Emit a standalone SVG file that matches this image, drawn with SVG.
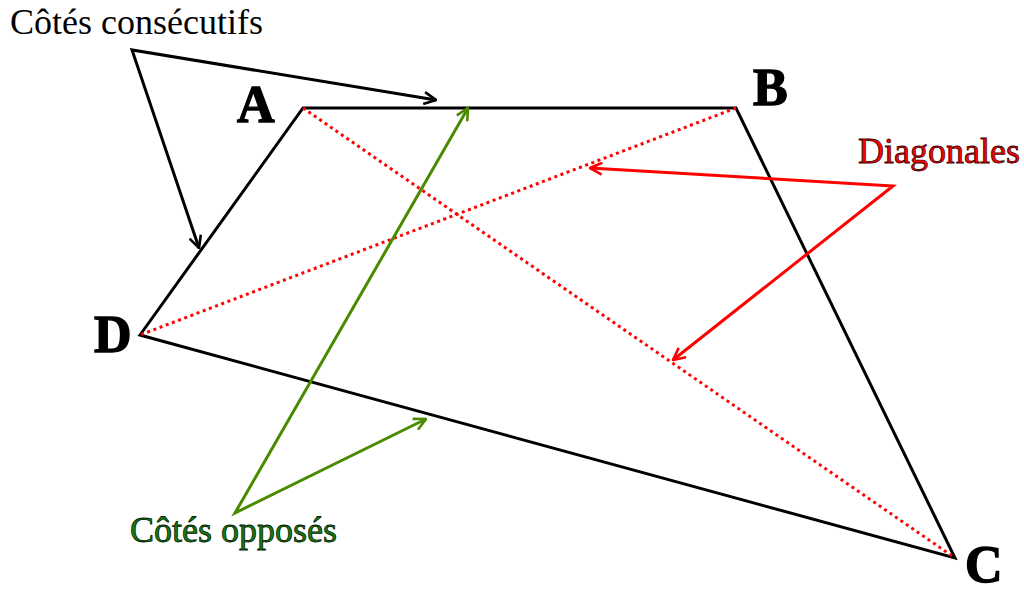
<svg xmlns="http://www.w3.org/2000/svg" width="1024" height="591" viewBox="0 0 1024 591">
<style>
.side{fill:none;stroke:#000;stroke-width:3;stroke-linejoin:miter}
.diag{fill:none;stroke:#ff0000;stroke-width:3;stroke-dasharray:3 3.6}
.arr{fill:none;stroke-width:3}
.lbl{font-family:"Liberation Serif","Times New Roman",serif;font-weight:bold;font-size:52px;fill:#000;stroke:#000;stroke-width:1.4}
.txt{font-family:"Liberation Serif","Times New Roman",serif;font-size:36px}
</style>
<defs>
<marker id="mkK" viewBox="0 0 14 14" refX="13" refY="7" markerWidth="14" markerHeight="14" markerUnits="userSpaceOnUse" orient="auto-start-reverse">
<path d="M1,1 L13,7 L1,13" fill="none" stroke="#000" stroke-width="2.6"/>
</marker>
<marker id="mkR" viewBox="0 0 14 14" refX="13" refY="7" markerWidth="14" markerHeight="14" markerUnits="userSpaceOnUse" orient="auto-start-reverse">
<path d="M1,1 L13,7 L1,13" fill="none" stroke="#ff0000" stroke-width="2.6"/>
</marker>
<marker id="mkG" viewBox="0 0 14 14" refX="13" refY="7" markerWidth="14" markerHeight="14" markerUnits="userSpaceOnUse" orient="auto-start-reverse">
<path d="M1,1 L13,7 L1,13" fill="none" stroke="#4a8a00" stroke-width="2.6"/>
</marker>
</defs>
<rect width="1024" height="591" fill="#fff"/>
<g id="quadrilateral">
<polygon class="side" points="303,108 736,108 955,558 140,335"/>
</g>
<g id="diagonals">
<line class="diag" x1="303" y1="108" x2="955" y2="558"/>
<line class="diag" x1="736" y1="108" x2="140" y2="335"/>
</g>
<g id="connectors">
<polyline class="arr" stroke="#000" points="436,100 132,50 199,248" marker-start="url(#mkK)" marker-end="url(#mkK)"/>
<polyline class="arr" stroke="#ff0000" points="590,168 893,186 673,360" marker-start="url(#mkR)" marker-end="url(#mkR)"/>
<polyline class="arr" stroke="#4a8a00" points="468,108 235,513 426,419" marker-start="url(#mkG)" marker-end="url(#mkG)"/>
</g>
<g id="vertex-A"><text class="lbl" x="237" y="122">A</text></g>
<g id="vertex-B"><text class="lbl" x="753" y="105">B</text></g>
<g id="vertex-C"><text class="lbl" x="965" y="582">C</text></g>
<g id="vertex-D"><text class="lbl" x="94" y="352">D</text></g>
<g id="label-consecutifs"><text class="txt" x="10" y="34" fill="#000">Côtés consécutifs</text></g>
<g id="label-diagonales"><text class="txt" x="858" y="163" fill="#ff0000" stroke="#3a0000" stroke-width="0.8">Diagonales</text></g>
<g id="label-opposes"><text class="txt" x="130" y="542" fill="#1a7a10" stroke="#002000" stroke-width="0.8">Côtés opposés</text></g>
</svg>
